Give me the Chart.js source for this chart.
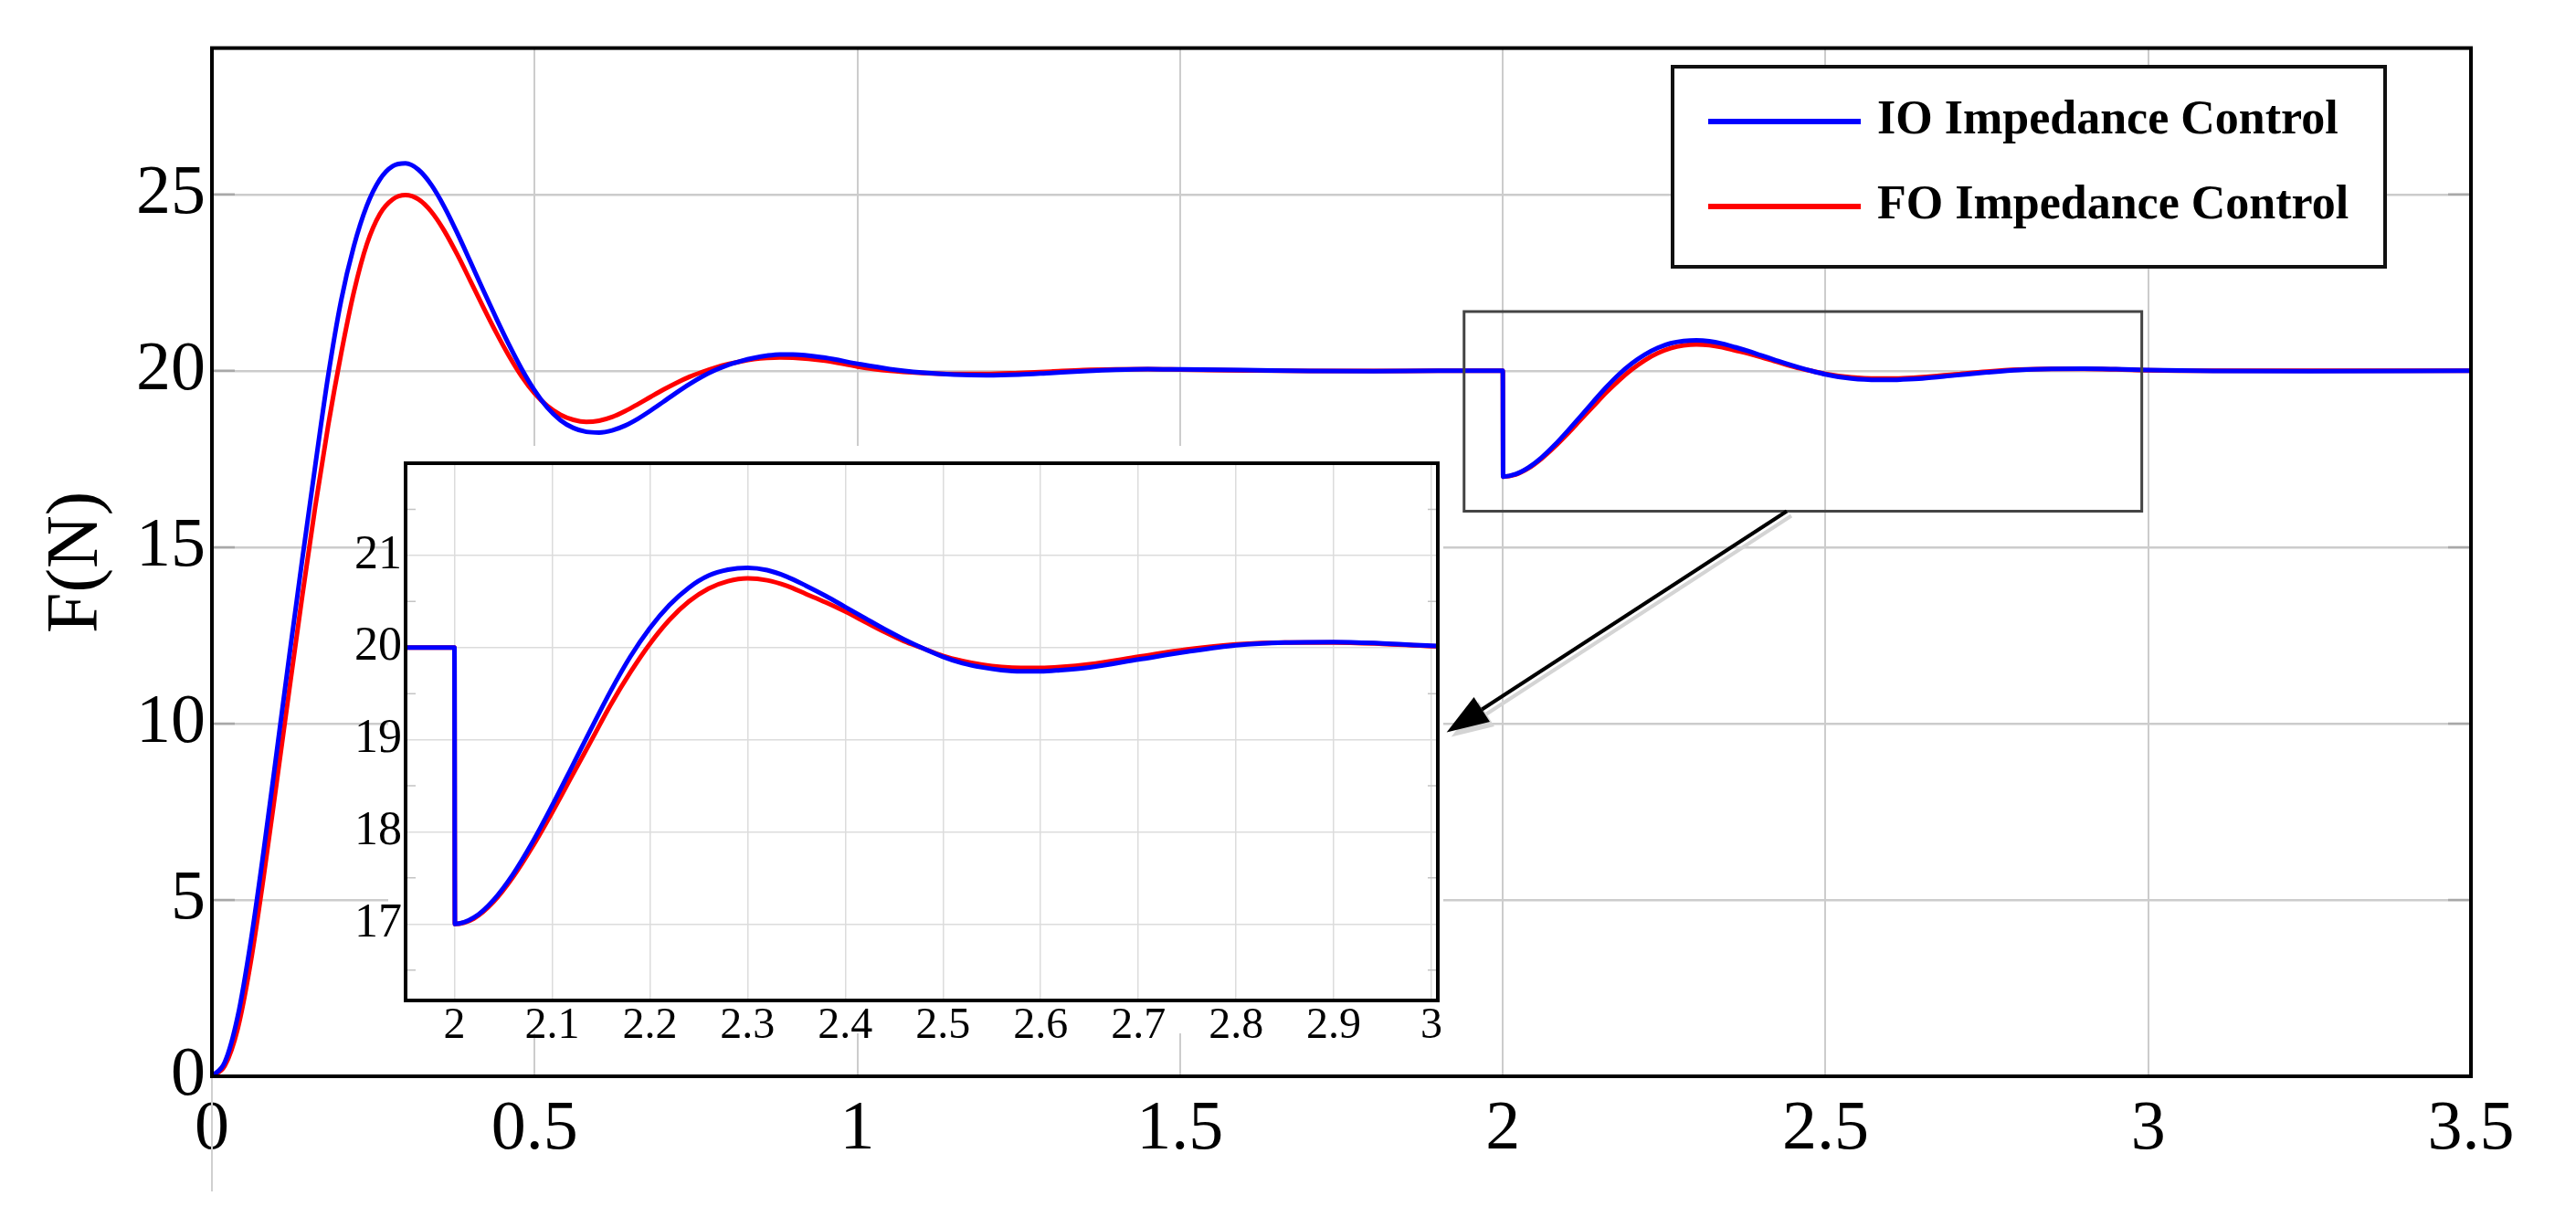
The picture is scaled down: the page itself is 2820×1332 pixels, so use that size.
<!DOCTYPE html>
<html>
<head>
<meta charset="utf-8">
<script src="https://cdn.jsdelivr.net/npm/chart.js@4.4.1/dist/chart.umd.min.js"></script>
<style>
  html, body { margin: 0; padding: 0; background: #fff; }
  #wrap { position: relative; width: 2820px; height: 1332px; }
  #mainChart { position: absolute; left: 0; top: 0; }
  #insetChart { position: absolute; left: 360px; top: 470px; }
</style>
</head>
<body>
<div id="wrap">
  <canvas id="mainChart" width="2820" height="1332"></canvas>
  <canvas id="insetChart" width="1260" height="700"></canvas>
</div>
<script>
// series (time in s, force in N)
const seriesNames = ["IO Impedance Control", "FO Impedance Control"];
const timeS = [
  0, 0.02, 0.04, 0.06, 0.08, 0.10, 0.12, 0.14, 0.16, 0.18,
  0.20, 0.22, 0.24, 0.26, 0.28, 0.30, 0.32, 0.34, 0.36, 0.38,
  0.40, 0.42, 0.44, 0.46, 0.48, 0.50, 0.52, 0.54, 0.56, 0.58,
  0.60, 0.62, 0.64, 0.66, 0.68, 0.70, 0.72, 0.74, 0.76, 0.78,
  0.80, 0.82, 0.84, 0.86, 0.88, 0.90, 0.95, 1.00, 1.05, 1.10,
  1.15, 1.20, 1.25, 1.30, 1.35, 1.40, 1.45, 1.50, 1.6, 1.7,
  1.8, 1.9, 2.0, 2.0005, 2.02, 2.04, 2.06, 2.08, 2.10, 2.12,
  2.14, 2.16, 2.18, 2.20, 2.22, 2.24, 2.26, 2.28, 2.30, 2.32,
  2.34, 2.36, 2.38, 2.40, 2.42, 2.44, 2.46, 2.48, 2.50, 2.52,
  2.54, 2.56, 2.58, 2.60, 2.62, 2.65, 2.70, 2.75, 2.80, 2.85,
  2.90, 2.95, 3.0, 3.1, 3.25, 3.5
];
const forceIO = [
  0, 0.4, 1.7, 3.8, 6.37, 9.14, 11.93, 14.66, 17.3, 19.85,
  21.98, 23.54, 24.68, 25.42, 25.8, 25.88, 25.7, 25.27, 24.65, 23.91,
  23.11, 22.3, 21.51, 20.75, 20.05, 19.44, 18.95, 18.6, 18.38, 18.27,
  18.25, 18.31, 18.445, 18.64, 18.875, 19.13, 19.385, 19.625, 19.84, 20.02,
  20.17, 20.28, 20.366, 20.43, 20.465, 20.465, 20.37, 20.2, 20.05, 19.95,
  19.89, 19.87, 19.89, 19.94, 19.99, 20.03, 20.05, 20.04, 20.02, 19.995,
  19.99, 20.0, 20.0, 17.0, 17.07, 17.26, 17.54, 17.89, 18.285, 18.7,
  19.12, 19.53, 19.9, 20.21, 20.46, 20.65, 20.78, 20.845, 20.865, 20.84,
  20.77, 20.67, 20.56, 20.44, 20.32, 20.2, 20.09, 19.99, 19.9, 19.83,
  19.785, 19.755, 19.742, 19.742, 19.755, 19.785, 19.87, 19.955, 20.025, 20.055,
  20.06, 20.045, 20.02, 19.995, 19.99, 20.0
];
const forceFO = [
  0, 0.3, 1.35, 3.22, 5.64, 8.29, 10.98, 13.62, 16.14, 18.44,
  20.47, 22.24, 23.59, 24.44, 24.86, 24.98, 24.86, 24.51, 23.97, 23.3,
  22.565, 21.82, 21.1, 20.43, 19.84, 19.36, 19.0, 18.755, 18.61, 18.55,
  18.585, 18.69, 18.855, 19.055, 19.265, 19.47, 19.66, 19.83, 19.97, 20.09,
  20.19, 20.27, 20.33, 20.365, 20.38, 20.375, 20.29, 20.12, 20.0, 19.94,
  19.91, 19.91, 19.94, 19.98, 20.02, 20.04, 20.045, 20.035, 20.01, 19.995,
  19.995, 20.0, 20.0, 17.0, 17.06, 17.24, 17.51, 17.84, 18.21, 18.6,
  18.99, 19.38, 19.73, 20.04, 20.3, 20.5, 20.64, 20.72, 20.75, 20.73,
  20.67, 20.58, 20.49, 20.39, 20.28, 20.17, 20.07, 19.99, 19.91, 19.855,
  19.815, 19.79, 19.78, 19.78, 19.79, 19.82, 19.9, 19.98, 20.035, 20.055,
  20.055, 20.04, 20.015, 20.0, 20.0, 20.0
];

const mainXTicks = [0, 0.5, 1, 1.5, 2, 2.5, 3, 3.5];
const mainYTicks = [0, 5, 10, 15, 20, 25];
const insetXTicks = [2, 2.1, 2.2, 2.3, 2.4, 2.5, 2.6, 2.7, 2.8, 2.9, 3];
const insetYTicks = [17, 18, 19, 20, 21];
const insetMinorY = [16.5, 17.5, 18.5, 19.5, 20.5, 21.5];

// zoom window and arrow, in data units of the main axes
const zoomBoxX = [1.94, 2.99];
const zoomBoxY = [16.02, 21.68];
const arrowFrom = [2.44, 16.02];
const arrowTo = [1.913, 9.75];

const colors = ["#0000ff", "#ff0000"];
const serif = "'Liberation Serif', 'Times New Roman', serif";
Chart.defaults.font.family = serif;
Chart.defaults.color = "#000";

function toPoints(ts, fs) {
  return ts.map((t, i) => ({ x: t, y: fs[i] }));
}

function makeDatasets() {
  return [forceIO, forceFO].map((f, i) => ({
    label: seriesNames[i],
    data: toPoints(timeS, f),
    borderColor: colors[i],
    backgroundColor: colors[i],
    borderWidth: 5,
    pointRadius: 0,
    fill: false,
    cubicInterpolationMode: "monotone",
  }));
}

function setTicks(list) {
  return (scale) => { scale.ticks = list.map((v) => ({ value: v })); };
}

function drawArrow(ctx, x0, y0, x1, y1, color, headLen, headW) {
  const ang = Math.atan2(y1 - y0, x1 - x0);
  const bx = x1 - headLen * Math.cos(ang);
  const by = y1 - headLen * Math.sin(ang);
  ctx.strokeStyle = color;
  ctx.fillStyle = color;
  ctx.lineWidth = 4;
  ctx.beginPath();
  ctx.moveTo(x0, y0);
  ctx.lineTo(bx, by);
  ctx.stroke();
  ctx.beginPath();
  ctx.moveTo(x1, y1);
  ctx.lineTo(bx + headW * Math.sin(ang), by - headW * Math.cos(ang));
  ctx.lineTo(bx - headW * Math.sin(ang), by + headW * Math.cos(ang));
  ctx.closePath();
  ctx.fill();
}

const mainDecor = {
  id: "mainDecor",
  beforeDatasetsDraw(chart) {
    const { ctx, chartArea: a, scales: { y } } = chart;
    ctx.save();
    // darker stubs where y grid meets the frame
    ctx.strokeStyle = "#a8a8a8";
    ctx.lineWidth = 2.5;
    mainYTicks.forEach((v) => {
      const py = y.getPixelForValue(v);
      ctx.beginPath();
      ctx.moveTo(a.left, py); ctx.lineTo(a.left + 25, py);
      ctx.moveTo(a.right - 25, py); ctx.lineTo(a.right, py);
      ctx.stroke();
    });
    ctx.restore();
  },
  afterDatasetsDraw(chart) {
    const { ctx, chartArea: a, scales: { x, y } } = chart;
    ctx.save();
    // x = 0 grid line runs on below the axis
    ctx.strokeStyle = "#d0d0d0";
    ctx.lineWidth = 2;
    ctx.beginPath();
    ctx.moveTo(a.left, a.bottom);
    ctx.lineTo(a.left, a.bottom + 126);
    ctx.stroke();

    // frame
    ctx.strokeStyle = "#000";
    ctx.lineWidth = 4;
    ctx.strokeRect(a.left, a.top, a.right - a.left, a.bottom - a.top);

    // zoom window
    const zx0 = x.getPixelForValue(zoomBoxX[0]), zx1 = x.getPixelForValue(zoomBoxX[1]);
    const zy0 = y.getPixelForValue(zoomBoxY[1]), zy1 = y.getPixelForValue(zoomBoxY[0]);
    ctx.strokeStyle = "#444";
    ctx.lineWidth = 3;
    ctx.strokeRect(zx0, zy0, zx1 - zx0, zy1 - zy0);

    // arrow with soft shadow
    const ax0 = x.getPixelForValue(arrowFrom[0]), ay0 = y.getPixelForValue(arrowFrom[1]);
    const ax1 = x.getPixelForValue(arrowTo[0]), ay1 = y.getPixelForValue(arrowTo[1]);
    drawArrow(ctx, ax0 + 5, ay0 + 5, ax1 + 5, ay1 + 5, "#d4d4d4", 46, 16);
    drawArrow(ctx, ax0, ay0, ax1, ay1, "#000", 46, 16);

    // legend box
    const lx = 1831, ly = 73, lw = 780, lh = 219;
    ctx.fillStyle = "#fff";
    ctx.fillRect(lx, ly, lw, lh);
    ctx.strokeStyle = "#111";
    ctx.lineWidth = 4;
    ctx.strokeRect(lx, ly, lw, lh);
    const rows = [133, 226];
    ctx.font = "bold 52px " + serif;
    ctx.textBaseline = "middle";
    ctx.textAlign = "left";
    chart.data.datasets.forEach((ds, i) => {
      ctx.strokeStyle = ds.borderColor;
      ctx.lineWidth = 6;
      ctx.beginPath();
      ctx.moveTo(1870, rows[i]);
      ctx.lineTo(2037, rows[i]);
      ctx.stroke();
      ctx.fillStyle = "#000";
      ctx.fillText(ds.label, 2055, rows[i]);
    });
    ctx.restore();
  },
};

new Chart(document.getElementById("mainChart"), {
  type: "line",
  data: { datasets: makeDatasets() },
  options: {
    responsive: false,
    animation: false,
    events: [],
    layout: { padding: { top: 35, right: 115, left: 0, bottom: 0 } },
    plugins: { legend: { display: false }, tooltip: { enabled: false } },
    scales: {
      x: {
        type: "linear",
        min: 0,
        max: 3.5,
        afterBuildTicks: setTicks(mainXTicks),
        afterFit: (s) => { s.height = 154; },
        border: { display: false },
        grid: { color: "#cccccc", lineWidth: 2, drawTicks: false },
        ticks: { padding: 13, autoSkip: false, maxRotation: 0, font: { size: 76 }, color: "#000",
          callback: (v) => String(v) },
      },
      y: {
        type: "linear",
        min: 0,
        max: 29.15,
        afterBuildTicks: setTicks(mainYTicks),
        afterFit: (s) => { s.width = 232; },
        border: { display: false },
        grid: { color: "#cccccc", lineWidth: 2.5, drawTicks: false },
        ticks: { padding: 7, autoSkip: false, font: { size: 76 }, color: "#000",
          callback: (v) => String(v) },
        title: { display: true, text: "F(N)", font: { size: 80 }, color: "#000",
          padding: { top: 37, bottom: 0 } },
      },
    },
  },
  plugins: [mainDecor],
});

const insetDecor = {
  id: "insetDecor",
  beforeDraw(chart) {
    const { ctx } = chart;
    ctx.save();
    ctx.fillStyle = "#fff";
    ctx.fillRect(65, 18, 1155, 643);
    ctx.restore();
  },
  afterDatasetsDraw(chart) {
    const { ctx, chartArea: a, scales: { y } } = chart;
    ctx.save();
    ctx.strokeStyle = "#c4c4c4";
    ctx.lineWidth = 1.5;
    insetMinorY.forEach((v) => {
      const py = y.getPixelForValue(v);
      ctx.beginPath();
      ctx.moveTo(a.left, py); ctx.lineTo(a.left + 11, py);
      ctx.moveTo(a.right - 11, py); ctx.lineTo(a.right, py);
      ctx.stroke();
    });
    ctx.strokeStyle = "#000";
    ctx.lineWidth = 4;
    ctx.strokeRect(a.left, a.top, a.right - a.left, a.bottom - a.top);
    ctx.restore();
  },
};

new Chart(document.getElementById("insetChart"), {
  type: "line",
  data: { datasets: makeDatasets() },
  options: {
    responsive: false,
    animation: false,
    events: [],
    layout: { padding: { top: 37, right: 46, left: 0, bottom: 0 } },
    plugins: { legend: { display: false }, tooltip: { enabled: false } },
    scales: {
      x: {
        type: "linear",
        min: 1.95,
        max: 3.0065,
        afterBuildTicks: setTicks(insetXTicks),
        afterFit: (s) => { s.height = 75; },
        border: { display: false },
        grid: { color: "#dcdcdc", lineWidth: 1.5, drawTicks: false },
        ticks: { padding: 0, autoSkip: false, maxRotation: 0, font: { size: 48 }, color: "#000",
          callback: (v) => String(v) },
      },
      y: {
        type: "linear",
        min: 16.17,
        max: 22,
        afterBuildTicks: setTicks(insetYTicks),
        afterFit: (s) => { s.width = 84; },
        border: { display: false },
        grid: { color: "#dcdcdc", lineWidth: 1.5, drawTicks: false },
        ticks: { padding: 4, autoSkip: false, font: { size: 52 }, color: "#000",
          callback: (v) => String(v) },
      },
    },
  },
  plugins: [insetDecor],
});
</script>
</body>
</html>
